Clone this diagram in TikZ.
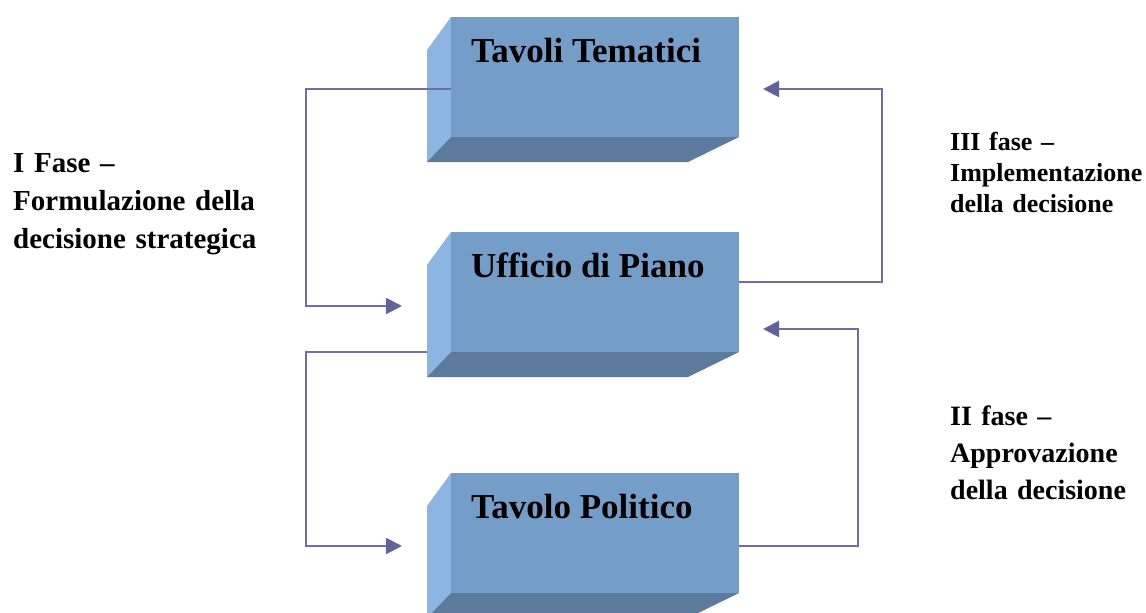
\documentclass[tikz,border=0pt]{standalone}
\usepackage{fontspec}
\setmainfont{Liberation Serif}
\usetikzlibrary{arrows.meta,calc}
\definecolor{frontc}{RGB}{116,157,199}
\definecolor{leftc}{RGB}{140,181,226}
\definecolor{botc}{RGB}{92,123,156}
\definecolor{linec}{RGB}{110,110,168}
\definecolor{headc}{RGB}{98,98,155}
\tikzset{
  frontface/.style={fill=frontc, draw=none, minimum width=288pt, minimum height=120pt, inner sep=0pt, outer sep=0pt},
  sideface/.style={fill=leftc, draw=none},
  bottomface/.style={fill=botc, draw=none},
  boxlabel/.style={font=\fontsize{35}{38}\selectfont\bfseries, anchor=base west, inner sep=0pt},
  phase/.style={anchor=base west, inner sep=0pt, align=left, text width=400pt},
  arr/.style={draw=linec, line width=2pt, -{Triangle[length=16pt,width=16pt,color=headc]}},
}
\newcommand{\drawcube}[2]{%
  \fill[sideface] (427,50+#2) -- (451,17+#2) -- (451,137+#2) -- (427,162+#2) -- cycle;
  \fill[bottomface] (451,137+#2) -- (739,137+#2) -- (688,162+#2) -- (427,162+#2) -- cycle;
  \node[frontface] (#1) at (595,77+#2) {};
}
\begin{document}
\begin{tikzpicture}[x=1pt,y=-1pt]
\useasboundingbox (0,0) rectangle (1146,613);
\clip (0,0) rectangle (1146,613);

\drawcube{f1}{0}
\drawcube{f2}{215}
\drawcube{f3}{456}

\node[boxlabel] (l1) at (471,62) {Tavoli Tematici};
\node[boxlabel] (l2) at (471,277) {Ufficio di Piano};
\node[boxlabel] (l3) at (471,518) {Tavolo Politico};

\coordinate (c1) at (402,306);
\coordinate (c3) at (763,89);
\coordinate (c4) at (402,546);
\coordinate (c5) at (763,329);

\draw[arr] ([yshift=-12pt]f1.west) -- ++(-145,0) |- (c1);
\draw[arr] ([yshift=10pt]f2.east) -- ++(143,0) |- (c3);
\draw[arr] ([xshift=-24pt]f2.south west) -- ++(-121,0) |- (c4);
\draw[arr] ([yshift=-13pt]f3.east) -- ++(119,0) |- (c5);

\node[phase, font=\fontsize{29}{38}\selectfont\bfseries] (p1) at (13,172)
  {I Fase –\\ Formulazione della\\ decisione strategica};
\node[phase, font=\fontsize{26}{31}\selectfont\bfseries] (p3) at (950,150)
  {III fase –\\ Implementazione\\ della decisione};
\node[phase, font=\fontsize{28}{37}\selectfont\bfseries] (p2) at (950,425)
  {II fase –\\ Approvazione\\ della decisione};
\end{tikzpicture}
\end{document}
